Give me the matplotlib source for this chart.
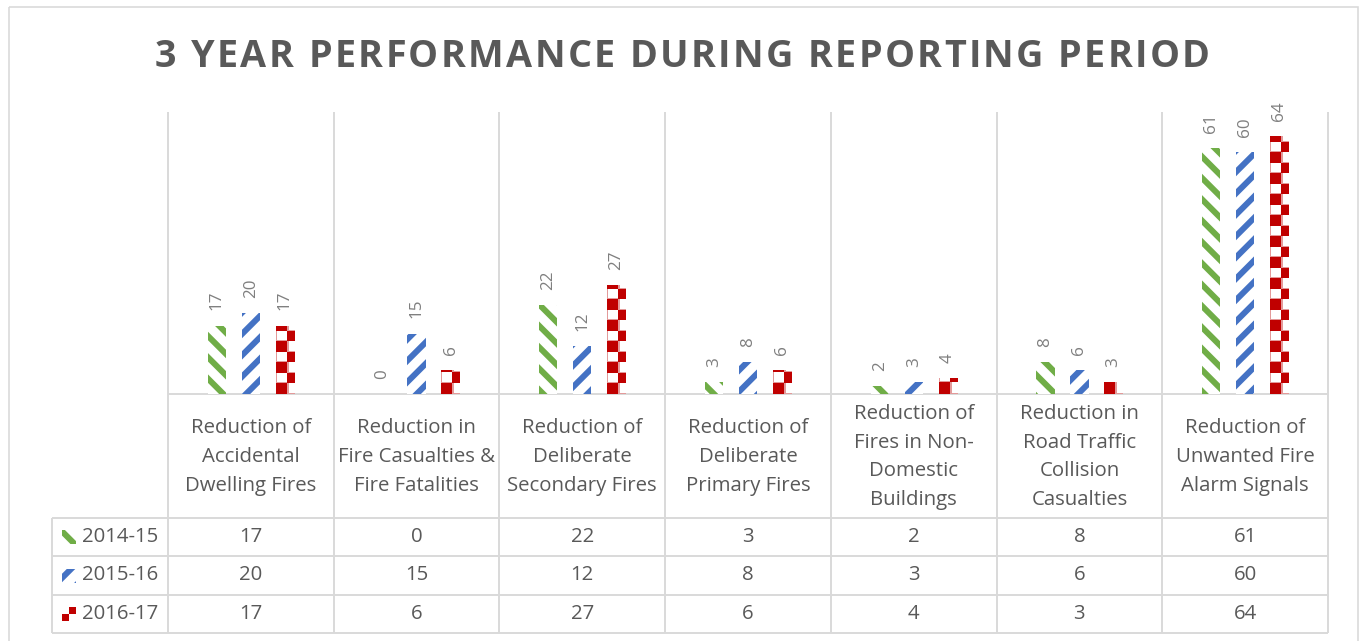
import numpy as np
import matplotlib
matplotlib.use("Agg")
import matplotlib.pyplot as plt
from matplotlib.patches import Rectangle
from matplotlib.colors import ListedColormap
from matplotlib.font_manager import findfont, FontProperties
from matplotlib.ft2font import FT2Font

# ---------------- data ----------------
categories = [
    "Reduction of\nAccidental\nDwelling Fires",
    "Reduction in\nFire Casualties &\nFire Fatalities",
    "Reduction of\nDeliberate\nSecondary Fires",
    "Reduction of\nDeliberate\nPrimary Fires",
    "Reduction of\nFires in Non-\nDomestic\nBuildings",
    "Reduction in\nRoad Traffic\nCollision\nCasualties",
    "Reduction of\nUnwanted Fire\nAlarm Signals",
]
series_names = ["2014-15", "2015-16", "2016-17"]
v2014 = [17, 0, 22, 3, 2, 8, 61]
v2015 = [20, 15, 12, 8, 3, 6, 60]
v2016 = [17, 6, 27, 6, 4, 3, 64]
series_values = [v2014, v2015, v2016]
title = "3 YEAR PERFORMANCE DURING REPORTING PERIOD"

# ---------------- style ----------------
DPI = 64
W, H = 1360, 641
PT = 72.0 / DPI            # points per pixel
GREEN, BLUE, RED = "#70AD47", "#4472C4", "#C00000"
colors = [GREEN, BLUE, RED]
hatches = ["\\", "/", None]
GRID = "#D9D9D9"
TXT = "#595959"
LBL = "#7F7F7F"

plt.rcParams['font.family'] = ['Open Sans', 'DejaVu Sans']
plt.rcParams['hatch.linewidth'] = 6.0 * PT

fig = plt.figure(figsize=(W / DPI, H / DPI), dpi=DPI)
fig.patch.set_facecolor("white")

# layout in pixels
PL, PR, PTOP, PBASE = 168, 1328, 112, 394
ROWS = [518, 556, 595, 633]
LEGL = 52
ncat = len(categories)
colw = (PR - PL) / ncat


def checker(hpx, wpx, s, col):
    """pixel image of a red checkerboard with thin red grid (Excel-like pattern)"""
    py = np.arange(int(np.ceil(hpx)))[:, None]
    px = np.arange(int(np.ceil(wpx)))[None, :]
    iy = np.floor(py / s).astype(int)
    ix = np.floor(px / s).astype(int)
    filled = ((iy + ix) % 2 == 0)
    border = ((py % s) < 1.0) | ((px % s) < 1.0) | (px == px.max())
    img = np.zeros((py.size, px.size), dtype=int)
    img[np.broadcast_to(border, img.shape)] = 1
    img[np.broadcast_to(filled, img.shape)] = 2
    cmap = ListedColormap(['white', '#E39A9A', col])
    return img, cmap


# overlay axes in pixel coordinates (table, frame)
ov = fig.add_axes([0, 0, 1, 1])
ov.set_xlim(0, W)
ov.set_ylim(H, 0)
ov.axis('off')

lw = 1.9 * PT
ov.add_patch(Rectangle((8.5, 6.5), 1349, 700, fill=False, edgecolor=GRID, lw=1.6 * PT))
xs = [PL + i * colw for i in range(ncat + 1)]
for x in xs:
    ov.plot([x, x], [PTOP, ROWS[-1]], color=GRID, lw=lw, solid_capstyle='butt')
ov.plot([LEGL, LEGL], [ROWS[0], ROWS[-1]], color=GRID, lw=lw, solid_capstyle='butt')
ov.plot([PL, PR], [PBASE, PBASE], color=GRID, lw=lw, solid_capstyle='butt')
for y in ROWS:
    ov.plot([LEGL, PR], [y, y], color=GRID, lw=lw, solid_capstyle='butt')

FS = 20.4 * PT
# header labels
for i, c in enumerate(categories):
    ov.text(PL + (i + 0.5) * colw, (PBASE + ROWS[0]) / 2 + 1, c, ha='center', va='center',
            multialignment='center', fontsize=FS, color=TXT, linespacing=1.58)

# table rows
for r, (name, vals, col, hat) in enumerate(zip(series_names, series_values, colors, hatches)):
    yc = (ROWS[r] + ROWS[r + 1]) / 2
    for i, v in enumerate(vals):
        ov.text(PL + (i + 0.5) * colw, yc, str(v), ha='center', va='center',
                fontsize=FS, color=TXT)
    ov.text(82, yc, name, ha='left', va='center', fontsize=FS, color=TXT)
    if hat is not None:
        ov.add_patch(Rectangle((62, yc - 7), 14, 14, facecolor='white', edgecolor=col,
                               lw=0, hatch=hat))
    else:
        ov.imshow(np.array([[0, 1], [1, 0]]), cmap=ListedColormap(['white', col]),
                  extent=(62, 76, yc + 7, yc - 7), origin='upper',
                  interpolation='nearest', aspect='auto')
ov.set_xlim(0, W)
ov.set_ylim(H, 0)

# main chart axes
ax = fig.add_axes([PL / W, 1 - PBASE / H, (PR - PL) / W, (PBASE - PTOP) / H])
ax.patch.set_alpha(0)
YMAX = 70
ax.set_xlim(-0.5, ncat - 0.5)
ax.set_ylim(0, YMAX)
ax.axis('off')

x = np.arange(ncat)
offsets = [-0.205, 0.0, 0.205]
bw = 0.11
pxx = colw                       # pixels per x unit
pxy = (PBASE - PTOP) / YMAX       # pixels per y unit
SQ = 10.5                        # checker square, px

for vals, col, hat, off in zip(series_values, colors, hatches, offsets):
    if hat is not None:
        bars = ax.bar(x + off, vals, bw, facecolor='white', edgecolor=col, lw=0, hatch=hat,
                      zorder=2)
    else:
        bars = ax.bar(x + off, vals, bw, facecolor='white', edgecolor='none', lw=0, zorder=2)
        for b, v in zip(bars, vals):
            if v <= 0:
                continue
            x0 = b.get_x()
            wpx = bw * pxx
            hpx = v * pxy
            img, cm = checker(hpx, wpx, SQ, col)
            im = ax.imshow(img[::-1], cmap=cm, vmin=0, vmax=2,
                           extent=(x0, x0 + img.shape[1] / pxx, 0, img.shape[0] / pxy),
                           origin='upper', interpolation='nearest', aspect='auto', zorder=3)
            im.set_clip_path(b)
    for xi, v in zip(x + off, vals):
        ax.annotate(str(v), (xi, v), xytext=(0, 15.1 * PT), textcoords='offset points',
                    rotation=90, ha='center', va='bottom', fontsize=17 * PT, color=LBL,
                    annotation_clip=False)
ax.set_xlim(-0.5, ncat - 0.5)
ax.set_ylim(0, YMAX)

# title with letter spacing
tprop = FontProperties(family='Open Sans', weight='bold')
tfs = 37.8 * PT
font = FT2Font(findfont(tprop))
font.set_size(tfs, DPI)
advs = []
for ch in title:
    g = font.load_char(ord(ch))
    advs.append(g.linearHoriAdvance / 65536.0)
target_w = 1055.0
track = (target_w - sum(advs)) / (len(title) - 1)
xpos = 682.5 - target_w / 2
for ch, a in zip(title, advs):
    if ch != ' ':
        fig.text(xpos / W, 1 - 67 / H, ch, ha='left', va='baseline', fontsize=tfs,
                 fontproperties=tprop, color=TXT)
    xpos += a + track

fig.savefig("out.png", dpi=DPI)
